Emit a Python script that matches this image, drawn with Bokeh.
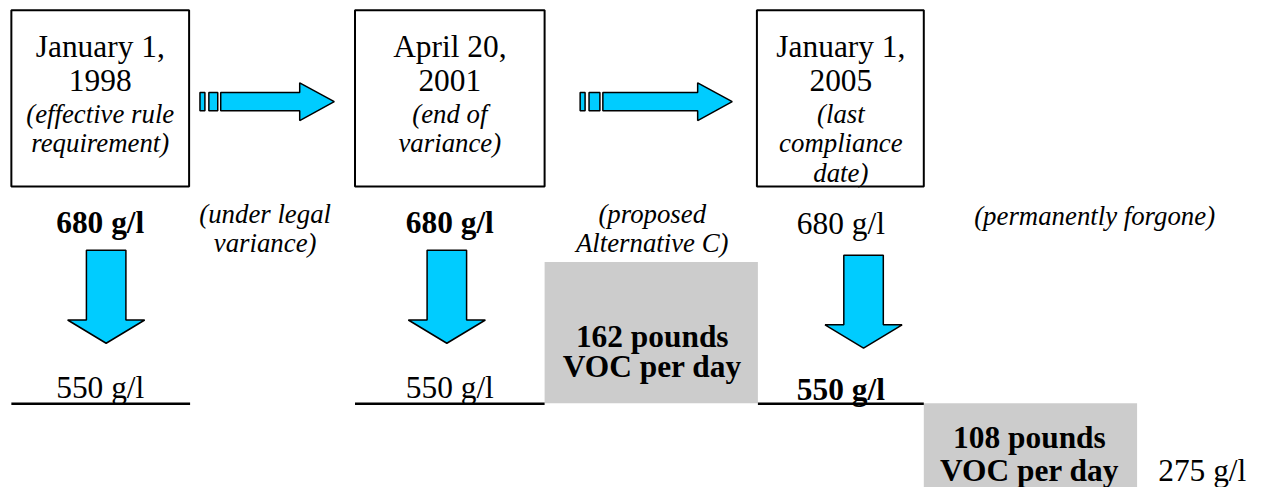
from bokeh.plotting import figure
from bokeh.models import Range1d
from bokeh.core.properties import value
from bokeh.embed import file_html
from bokeh.resources import INLINE

# ---------------- content ----------------
dates = ["January 1,", "April 20,", "January 1,"]
years = ["1998", "2001", "2005"]
box_notes = [["(effective rule", "requirement)"],
             ["(end of", "variance)"],
             ["(last", "compliance", "date)"]]
limit_before = ["680 g/l", "680 g/l", "680 g/l"]
before_bold = [True, True, False]
limit_after = ["550 g/l", "550 g/l", "550 g/l"]
after_bold = [False, False, True]
interval_notes = [["(under legal", "variance)"],
                  ["(proposed", "Alternative C)"],
                  ["(permanently forgone)"]]
savings = [["162 pounds", "VOC per day"], ["108 pounds", "VOC per day"]]
final_limit = "275 g/l"

# ---------------- layout ----------------
W, H = 1262, 487
FONT = value("Liberation Serif")
BIG = "31.4px"
SMALL = "26.8px"
CYAN = "#00CCFF"
GRAY = "#CCCCCC"

box_left = [11, 359, 766]
box_right = [191, 551, 935]
box_top, box_bot = 10, 192
text_cx = [101, 455, 851]
arrow_cx = [107, 452, 874]
arrow_top = [258, 258, 263]
before_base = [229, 229, 230]
after_base = [400, 400, 402]
line_y = 416.5
line_x = [(11, 192), (359, 551), (767, 935)]
note_cx = [268, 660, 1108]
note_base = [[220, 250], [220, 250], [223]]
gray_boxes = [(551, 767, 270, 416), (935, 1151, 416, 520)]
sav_cx = [660, 1042]
sav_base = [[347, 378], [451, 485]]
final_x, final_base = 1217, 485
harrows = [(202, 338), (587, 741)]

p = figure(width=W, height=H, output_backend="svg", toolbar_location=None,
           x_range=Range1d(0, 1278), y_range=Range1d(503, 0),
           min_border=0, outline_line_color=None, background_fill_color="white",
           border_fill_color="white")
p.axis.visible = False
p.grid.visible = False


def txt(x, y, s, size=BIG, style="normal"):
    p.text(x=[x], y=[y], text=[s], text_font=FONT, text_font_size=size,
           text_font_style=style, text_align="center",
           text_baseline="alphabetic", text_color="black")


# boxes with dates
for i in range(3):
    p.quad(left=[box_left[i]], right=[box_right[i]], top=[box_top],
           bottom=[box_bot], fill_color="white", line_color="black",
           line_width=2)
    txt(text_cx[i], 47, dates[i])
    txt(text_cx[i], 83, years[i])
    for j, s in enumerate(box_notes[i]):
        txt(text_cx[i], [117, 147, 178][j], s, SMALL, "italic")

# horizontal arrows between boxes
for k, (x0, x1) in enumerate(harrows):
    yc = 104.5
    sh = 9.5
    hh = 19.5
    head = 35
    p.quad(left=[x0], right=[x0 + 5], top=[yc - sh], bottom=[yc + sh],
           fill_color=CYAN, line_color="black", line_width=1.5)
    p.quad(left=[x0 + 9], right=[x0 + (18 if k == 0 else 20)],
           top=[yc - sh], bottom=[yc + sh],
           fill_color=CYAN, line_color="black", line_width=1.5)
    s0 = x0 + (21 if k == 0 else 23)
    p.patch(x=[s0, x1 - head, x1 - head, x1, x1 - head, x1 - head, s0],
            y=[yc - sh, yc - sh, yc - hh, yc, yc + hh, yc + sh, yc + sh],
            fill_color=CYAN, line_color="black", line_width=1.5)

# before / after limits and down arrows
for i in range(3):
    txt(text_cx[i], before_base[i], limit_before[i],
        style="bold" if before_bold[i] else "normal")
    cx = arrow_cx[i]
    t = arrow_top[i]
    ht = t + 72
    tip = t + 96
    p.patch(x=[cx - 20, cx + 20, cx + 20, cx + 39, cx, cx - 39, cx - 20],
            y=[t, t, ht, ht, tip, ht, ht],
            fill_color=CYAN, line_color="black", line_width=1.5)
    txt(text_cx[i], after_base[i], limit_after[i],
        style="bold" if after_bold[i] else "normal")

# gray savings boxes
for k, (l, r, t, b) in enumerate(gray_boxes):
    p.quad(left=[l], right=[r], top=[t], bottom=[b], fill_color=GRAY,
           line_color=None)
    for j, s in enumerate(savings[k]):
        txt(sav_cx[k], sav_base[k][j], s, style="bold")

# baseline lines
for (x0, x1) in line_x:
    p.line(x=[x0, x1], y=[line_y, line_y], line_color="black", line_width=2.5)

# interval notes
for i in range(3):
    for j, s in enumerate(interval_notes[i]):
        txt(note_cx[i], note_base[i][j], s, SMALL, "italic")

txt(final_x, final_base, final_limit)

open("out.html", "w").write(file_html(p, INLINE))
